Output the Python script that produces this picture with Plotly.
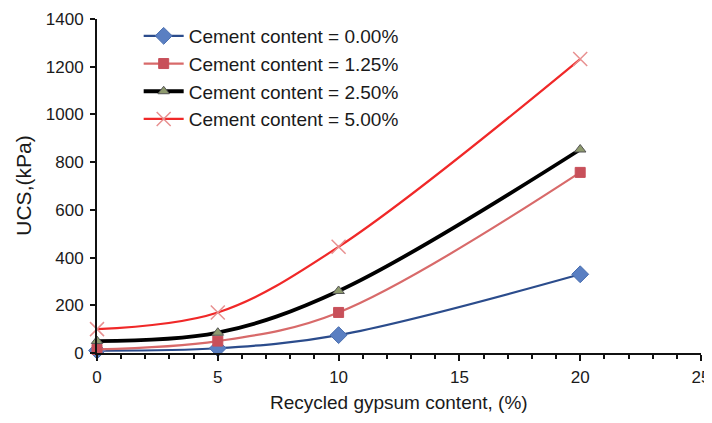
import plotly.graph_objects as go

gypsum = [0, 5, 10, 20]
ucs_c000 = [10, 20, 75, 330]
ucs_c125 = [15, 50, 170, 757]
ucs_c250 = [50, 85, 260, 853]
ucs_c500 = [100, 170, 445, 1232]
series_names = ["Cement content = 0.00%", "Cement content = 1.25%",
                "Cement content = 2.50%", "Cement content = 5.00%"]
x_ticks = [0, 5, 10, 15, 20, 25]
y_ticks = [0, 200, 400, 600, 800, 1000, 1200, 1400]

FONT = "Liberation Sans, Arial, sans-serif"

styles = [
    dict(line=dict(color="#2B4C8C", width=2.2, shape="spline"),
         marker=dict(symbol="diamond", size=13, color="#5A7FC2", line=dict(color="#4A6FB0", width=1))),
    dict(line=dict(color="#D86A6A", width=2.2, shape="spline"),
         marker=dict(symbol="square", size=10, color="#C8505A", line=dict(color="#C8505A", width=1))),
    dict(line=dict(color="#000000", width=3.8, shape="spline"),
         marker=dict(symbol="triangle-up", size=10, color="#8E9A6E", line=dict(color="#555555", width=1))),
    dict(line=dict(color="#F02828", width=2.2, shape="spline"),
         marker=dict(symbol="x-thin", size=14, color="#F0A0A0", line=dict(color="#E89090", width=1.5))),
]

fig = go.Figure()
for i, (name, ys) in enumerate(zip(series_names, [ucs_c000, ucs_c125, ucs_c250, ucs_c500])):
    fig.add_trace(go.Scatter(x=gypsum, y=ys, name=name, mode="lines+markers",
                             cliponaxis=False, legendgroup=str(i), **styles[i]))

# page body adds an 8px offset, so the figure is 704x415
fig.update_layout(
    width=704, height=415,
    margin=dict(l=89, r=11, t=11, b=70, autoexpand=False),
    paper_bgcolor="white", plot_bgcolor="white",
    font=dict(family=FONT, color="#1a1a1a"),
    showlegend=True,
    legend=dict(x=0.069, y=1.006, xanchor="left", yanchor="top",
                font=dict(family=FONT, size=19, color="#1a1a1a"),
                bgcolor="rgba(0,0,0,0)", traceorder="grouped", tracegroupgap=0,
                itemwidth=40),
    xaxis=dict(range=[0, 25], tickvals=x_ticks, showgrid=False, zeroline=False,
               showline=True, linecolor="#111", linewidth=2,
               ticks="outside", ticklen=6, tickwidth=2, tickcolor="#111",
               ticklabelstandoff=2,
               minor=dict(dtick=1, ticks="outside", ticklen=4, tickwidth=2, tickcolor="#111"),
               tickfont=dict(size=17, family=FONT, color="#1a1a1a")),
    yaxis=dict(range=[0, 1400], tickvals=y_ticks, showgrid=False, zeroline=False,
               showline=True, linecolor="#111", linewidth=2,
               ticks="outside", ticklen=5, tickwidth=2, tickcolor="#111",
               ticklabelstandoff=3,
               tickfont=dict(size=17, family=FONT, color="#1a1a1a")),
    annotations=[
        dict(text="Recycled gypsum content, (%)", xref="paper", yref="paper",
             x=0.5, y=-0.147, xanchor="center", yanchor="middle", showarrow=False,
             font=dict(size=19, family=FONT, color="#1a1a1a")),
        dict(text="UCS,(kPa)", xref="paper", yref="paper", textangle=-90,
             x=-0.123, y=0.5, xanchor="center", yanchor="middle", showarrow=False,
             font=dict(size=21, family=FONT, color="#1a1a1a")),
    ],
)

fig.write_html("out.html")
